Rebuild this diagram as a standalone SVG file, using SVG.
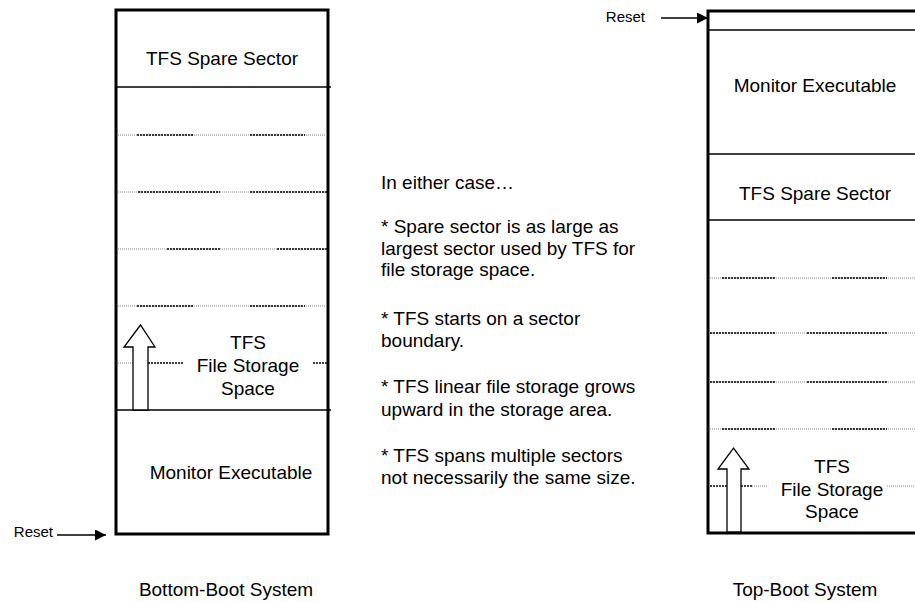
<svg xmlns="http://www.w3.org/2000/svg" width="915" height="602" viewBox="0 0 915 602">
  <defs>
    <style>
      .frame { fill: #fff; stroke: #000; stroke-width: 3; }
      .solid { stroke: #000; stroke-width: 1.5; fill: none; }
      .dim { stroke: #888; stroke-width: 1; stroke-dasharray: 1 1; fill: none; }
      .dash { stroke: #000; stroke-width: 1.5; stroke-dasharray: 2 1; fill: none; }
      .grow { fill: #fff; stroke: #000; stroke-width: 1.3; }
      .lbl { font-family: "Liberation Sans", Arial, sans-serif; font-size: 19px; fill: #000; }
      .mid { text-anchor: middle; }
      .small { font-family: "Liberation Sans", Arial, sans-serif; font-size: 15px; fill: #000; }
      .wire { stroke: #000; stroke-width: 1.5; fill: none; }
    </style>
    <marker id="head" viewBox="0 0 10 10" refX="10" refY="5" markerWidth="13" markerHeight="11" markerUnits="userSpaceOnUse" orient="auto">
      <path d="M0,0 L10,5 L0,10 Z" fill="#000"/>
    </marker>
  </defs>
  <rect width="915" height="602" fill="#fff"/>

  <!-- Bottom-boot flash layout -->
  <g id="bottom-boot">
    <rect class="frame" x="116" y="10" width="212" height="524"/>
    <line class="solid" x1="116" y1="87" x2="331" y2="87"/>
    <line class="solid" x1="116" y1="410" x2="331" y2="410"/>
    <!-- sector boundaries -->
    <line class="dim" x1="118" y1="135" x2="327" y2="135"/>
    <line class="dash" x1="137" y1="135" x2="193" y2="135"/>
    <line class="dash" x1="250" y1="135" x2="305" y2="135"/>
    <line class="dim" x1="118" y1="192" x2="327" y2="192"/>
    <line class="dash" x1="138" y1="192" x2="220" y2="192"/>
    <line class="dash" x1="250" y1="192" x2="327" y2="192"/>
    <line class="dim" x1="118" y1="249" x2="327" y2="249"/>
    <line class="dash" x1="167" y1="249" x2="220" y2="249"/>
    <line class="dash" x1="277" y1="249" x2="327" y2="249"/>
    <line class="dim" x1="118" y1="306" x2="327" y2="306"/>
    <line class="dash" x1="137" y1="306" x2="193" y2="306"/>
    <line class="dash" x1="250" y1="306" x2="305" y2="306"/>
    <line class="dim" x1="118" y1="363" x2="133" y2="363"/>
    <line class="dash" x1="148" y1="363" x2="183" y2="363"/>
    <line class="dash" x1="313" y1="363" x2="327" y2="363"/>
    <polygon class="grow" points="133,410 133,347 124,347 140.5,325 155,347 148,347 148,410"/>
    <text class="lbl mid" x="222" y="65">TFS Spare Sector</text>
    <text class="lbl mid" x="248" y="349">TFS</text>
    <text class="lbl mid" x="248" y="372">File Storage</text>
    <text class="lbl mid" x="248" y="395">Space</text>
    <text class="lbl mid" x="231" y="479">Monitor Executable</text>
    <text class="lbl mid" x="226" y="596">Bottom-Boot System</text>
  </g>

  <!-- Top-boot flash layout -->
  <g id="top-boot">
    <rect class="frame" x="708" y="11" width="214" height="522"/>
    <line class="solid" x1="708" y1="30" x2="915" y2="30"/>
    <line class="solid" x1="708" y1="154" x2="915" y2="154"/>
    <line class="solid" x1="708" y1="220" x2="915" y2="220"/>
    <!-- sector boundaries -->
    <line class="dim" x1="710" y1="278" x2="915" y2="278"/>
    <line class="dash" x1="722" y1="278" x2="775" y2="278"/>
    <line class="dash" x1="832" y1="278" x2="887" y2="278"/>
    <line class="dim" x1="710" y1="333" x2="915" y2="333"/>
    <line class="dash" x1="710" y1="333" x2="775" y2="333"/>
    <line class="dash" x1="807" y1="333" x2="887" y2="333"/>
    <line class="dim" x1="710" y1="382" x2="915" y2="382"/>
    <line class="dash" x1="710" y1="382" x2="775" y2="382"/>
    <line class="dash" x1="807" y1="382" x2="887" y2="382"/>
    <line class="dim" x1="710" y1="429" x2="915" y2="429"/>
    <line class="dash" x1="722" y1="429" x2="775" y2="429"/>
    <line class="dash" x1="832" y1="429" x2="887" y2="429"/>
    <line class="dash" x1="710" y1="486" x2="727" y2="486"/>
    <line class="dash" x1="741" y1="486" x2="752" y2="486"/>
    <line class="dim" x1="752" y1="486" x2="767" y2="486"/>
    <line class="dim" x1="887" y1="486" x2="915" y2="486"/>
    <polygon class="grow" points="727,532 727,469 718,469 733.5,448 749,469 741,469 741,532"/>
    <text class="lbl mid" x="815" y="92">Monitor Executable</text>
    <text class="lbl mid" x="815" y="200">TFS Spare Sector</text>
    <text class="lbl mid" x="832" y="473">TFS</text>
    <text class="lbl mid" x="832" y="496">File Storage</text>
    <text class="lbl mid" x="832" y="518">Space</text>
    <text class="lbl mid" x="805" y="596">Top-Boot System</text>
  </g>

  <!-- Notes common to both layouts -->
  <g id="notes" class="lbl">
    <text x="381" y="189">In either case…</text>
    <text x="381" y="233">* Spare sector is as large as</text>
    <text x="381" y="255">largest sector used by TFS for</text>
    <text x="381" y="276">file storage space.</text>
    <text x="381" y="325">* TFS starts on a sector</text>
    <text x="381" y="347">boundary.</text>
    <text x="381" y="393">* TFS linear file storage grows</text>
    <text x="381" y="416">upward in the storage area.</text>
    <text x="381" y="462">* TFS spans multiple sectors</text>
    <text x="381" y="484">not necessarily the same size.</text>
  </g>

  <!-- Reset vectors -->
  <g id="reset-bottom">
    <text class="small" x="53" y="537" text-anchor="end">Reset</text>
  </g>
  <g id="reset-top">
    <text class="small" x="645" y="22" text-anchor="end">Reset</text>
  </g>
  <g id="connectors">
    <line class="wire" x1="57" y1="535" x2="106" y2="535" marker-end="url(#head)"/>
    <line class="wire" x1="661" y1="18" x2="708" y2="18" marker-end="url(#head)"/>
  </g>
</svg>
